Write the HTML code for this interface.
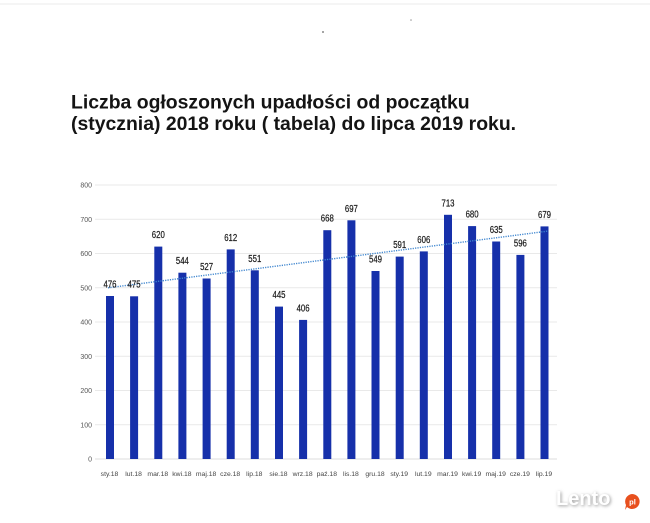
<!DOCTYPE html>
<html>
<head>
<meta charset="utf-8">
<style>
html,body{margin:0;padding:0;background:#fff;}
body{width:650px;height:523px;overflow:hidden;position:relative;}
svg{position:absolute;left:0;top:0;}
</style>
</head>
<body>
<svg width="650" height="523" viewBox="0 0 650 523" xmlns="http://www.w3.org/2000/svg">
<defs>
<filter id="blur" x="-20%" y="-50%" width="140%" height="200%"><feGaussianBlur stdDeviation="1.6"/></filter>
</defs>
<rect width="650" height="523" fill="#ffffff"/>
<!-- faint scan artifacts -->
<line x1="0" y1="4" x2="650" y2="4" stroke="#f5f5f5" stroke-width="2"/>
<circle cx="323" cy="32" r="1" fill="#888"/>
<circle cx="411" cy="20" r="0.8" fill="#999"/>

<!-- title -->
<g font-family="'Liberation Sans', Arial, sans-serif" font-weight="bold" font-size="19.4" fill="#141414">
<text x="71" y="108.5">Liczba ogłoszonych upadłości od początku</text>
<text x="71" y="130">(stycznia) 2018 roku ( tabela) do lipca 2019 roku.</text>
</g>

<!-- gridlines -->
<g stroke="#e9e9e9" stroke-width="1">
<line x1="95" y1="185" x2="557" y2="185"/>
<line x1="95" y1="219.25" x2="557" y2="219.25"/>
<line x1="95" y1="253.5" x2="557" y2="253.5"/>
<line x1="95" y1="287.75" x2="557" y2="287.75"/>
<line x1="95" y1="322" x2="557" y2="322"/>
<line x1="95" y1="356.25" x2="557" y2="356.25"/>
<line x1="95" y1="390.5" x2="557" y2="390.5"/>
<line x1="95" y1="424.75" x2="557" y2="424.75"/>
<line x1="95" y1="459" x2="557" y2="459" stroke="#dcdcdc"/>
</g>

<!-- y labels -->
<g font-family="'Liberation Sans', Arial, sans-serif" font-size="7" fill="#555" text-anchor="end">
<text x="92" y="187.5">800</text>
<text x="92" y="221.75">700</text>
<text x="92" y="256">600</text>
<text x="92" y="290.25">500</text>
<text x="92" y="324.5">400</text>
<text x="92" y="358.75">300</text>
<text x="92" y="393">200</text>
<text x="92" y="427.25">100</text>
<text x="92" y="461.5">0</text>
</g>

<!-- bars -->
<g fill="#1630aa">
<rect x="106.0" y="296.0" width="8" height="163.0"/>
<rect x="130.1" y="296.3" width="8" height="162.7"/>
<rect x="154.3" y="246.6" width="8" height="212.4"/>
<rect x="178.4" y="272.7" width="8" height="186.3"/>
<rect x="202.6" y="278.5" width="8" height="180.5"/>
<rect x="226.7" y="249.4" width="8" height="209.6"/>
<rect x="250.8" y="270.3" width="8" height="188.7"/>
<rect x="275.0" y="306.6" width="8" height="152.4"/>
<rect x="299.1" y="319.9" width="8" height="139.1"/>
<rect x="323.3" y="230.2" width="8" height="228.8"/>
<rect x="347.4" y="220.3" width="8" height="238.7"/>
<rect x="371.5" y="271.0" width="8" height="188.0"/>
<rect x="395.7" y="256.6" width="8" height="202.4"/>
<rect x="419.8" y="251.4" width="8" height="207.6"/>
<rect x="444.0" y="214.8" width="8" height="244.2"/>
<rect x="468.1" y="226.1" width="8" height="232.9"/>
<rect x="492.2" y="241.5" width="8" height="217.5"/>
<rect x="516.4" y="254.9" width="8" height="204.1"/>
<rect x="540.5" y="226.4" width="8" height="232.6"/>
</g>

<!-- trend line -->
<line x1="108" y1="287.8" x2="548" y2="231.1" stroke="#3f86cf" stroke-width="1.4" stroke-dasharray="1.2 1.2"/>

<!-- value labels -->
<g font-family="'Liberation Sans', Arial, sans-serif" font-size="10" fill="#1e1e1e" stroke="#1e1e1e" stroke-width="0.25" text-anchor="middle">
<text x="110.0" y="287.3" textLength="13" lengthAdjust="spacingAndGlyphs">476</text>
<text x="134.1" y="287.6" textLength="13" lengthAdjust="spacingAndGlyphs">475</text>
<text x="158.3" y="238.1" textLength="13" lengthAdjust="spacingAndGlyphs">620</text>
<text x="182.4" y="264.2" textLength="13" lengthAdjust="spacingAndGlyphs">544</text>
<text x="206.6" y="270.0" textLength="13" lengthAdjust="spacingAndGlyphs">527</text>
<text x="230.7" y="240.9" textLength="13" lengthAdjust="spacingAndGlyphs">612</text>
<text x="254.8" y="261.8" textLength="13" lengthAdjust="spacingAndGlyphs">551</text>
<text x="279.0" y="298.1" textLength="13" lengthAdjust="spacingAndGlyphs">445</text>
<text x="303.1" y="311.4" textLength="13" lengthAdjust="spacingAndGlyphs">406</text>
<text x="327.3" y="221.7" textLength="13" lengthAdjust="spacingAndGlyphs">668</text>
<text x="351.4" y="211.8" textLength="13" lengthAdjust="spacingAndGlyphs">697</text>
<text x="375.5" y="262.5" textLength="13" lengthAdjust="spacingAndGlyphs">549</text>
<text x="399.7" y="248.1" textLength="13" lengthAdjust="spacingAndGlyphs">591</text>
<text x="423.8" y="242.9" textLength="13" lengthAdjust="spacingAndGlyphs">606</text>
<text x="448.0" y="206.3" textLength="13" lengthAdjust="spacingAndGlyphs">713</text>
<text x="472.1" y="217.6" textLength="13" lengthAdjust="spacingAndGlyphs">680</text>
<text x="496.2" y="233.0" textLength="13" lengthAdjust="spacingAndGlyphs">635</text>
<text x="520.4" y="246.4" textLength="13" lengthAdjust="spacingAndGlyphs">596</text>
<text x="544.5" y="217.9" textLength="13" lengthAdjust="spacingAndGlyphs">679</text>
</g>

<!-- x labels -->
<g font-family="'Liberation Sans', Arial, sans-serif" font-size="6.8" fill="#444" text-anchor="middle">
<text x="109.5" y="476">sty.18</text>
<text x="133.6" y="476">lut.18</text>
<text x="157.8" y="476">mar.18</text>
<text x="181.9" y="476">kwi.18</text>
<text x="206.1" y="476">maj.18</text>
<text x="230.2" y="476">cze.18</text>
<text x="254.3" y="476">lip.18</text>
<text x="278.5" y="476">sie.18</text>
<text x="302.6" y="476">wrz.18</text>
<text x="326.8" y="476">paź.18</text>
<text x="350.9" y="476">lis.18</text>
<text x="375.0" y="476">gru.18</text>
<text x="399.2" y="476">sty.19</text>
<text x="423.3" y="476">lut.19</text>
<text x="447.5" y="476">mar.19</text>
<text x="471.6" y="476">kwi.19</text>
<text x="495.7" y="476">maj.19</text>
<text x="519.9" y="476">cze.19</text>
<text x="544.0" y="476">lip.19</text>
</g>

<!-- watermark -->
<g font-family="'Liberation Sans', Arial, sans-serif" font-weight="bold">
<text x="557" y="506" font-size="20" fill="#9a9a9a" filter="url(#blur)">Lento</text>
<text x="556" y="505" font-size="20" fill="#ffffff">Lento</text>
<path d="M632 494 a7.5 7.5 0 1 1 -5 13 l-2 3 l1 -5 a7.5 7.5 0 0 1 6 -11z" fill="#e8501e"/>
<text x="632.5" y="504.5" font-size="7.5" fill="#fff" text-anchor="middle">pl</text>
</g>
</svg>
</body>
</html>
